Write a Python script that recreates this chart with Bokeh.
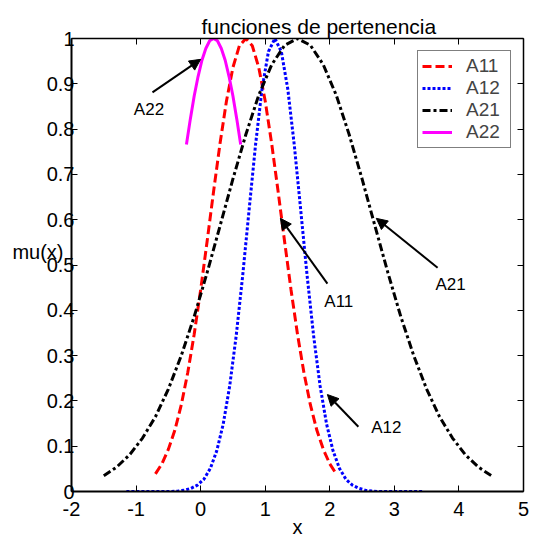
from bokeh.plotting import figure
from bokeh.models import (Label, Arrow, NormalHead, LinearAxis, FixedTicker,
                          CustomJSTickFormatter, Legend, LegendItem, Range1d, Title)
from bokeh.embed import file_html
from bokeh.resources import INLINE

FONT = "Liberation Sans"

# ---- data ----
a11_x = [-0.7, -0.6, -0.5, -0.4, -0.3, -0.2, -0.1, 0.0, 0.1, 0.2, 0.3, 0.4, 0.5, 0.6, 0.7,
         0.8, 0.9, 1.0, 1.1, 1.2, 1.3, 1.4, 1.5, 1.6, 1.7, 1.8, 1.9, 2.0, 2.1]
a11_y = [0.039, 0.061, 0.093, 0.135, 0.191, 0.262, 0.347, 0.445, 0.552, 0.662, 0.768, 0.862,
         0.936, 0.984, 1.0, 0.984, 0.936, 0.862, 0.768, 0.662, 0.552, 0.445, 0.347, 0.262,
         0.191, 0.135, 0.093, 0.061, 0.039]

a12_x = [-1.15, -1.05, -0.95, -0.85, -0.75, -0.65, -0.55, -0.45, -0.35, -0.25, -0.15, -0.05,
         0.05, 0.15, 0.25, 0.35, 0.45, 0.55, 0.65, 0.75, 0.85, 0.95, 1.05, 1.15, 1.25, 1.35,
         1.45, 1.55, 1.65, 1.75, 1.85, 1.95, 2.05, 2.15, 2.25, 2.35, 2.45, 2.55, 2.65, 2.75,
         2.85, 2.95, 3.05, 3.15, 3.25, 3.35, 3.45]
a12_y = [0, 0, 0, 0, 0, 0, 0, 0, 0.001, 0.003, 0.007, 0.014, 0.027, 0.051, 0.09, 0.149,
         0.233, 0.343, 0.475, 0.621, 0.765, 0.888, 0.971, 1.0, 0.971, 0.888, 0.765, 0.621,
         0.475, 0.343, 0.233, 0.149, 0.09, 0.051, 0.027, 0.014, 0.007, 0.003, 0.001,
         0, 0, 0, 0, 0, 0, 0, 0]

a21_x = [-1.5, -1.3, -1.1, -0.9, -0.7, -0.5, -0.3, -0.1, 0.1, 0.3, 0.5, 0.7, 0.9, 1.1, 1.3,
         1.5, 1.7, 1.9, 2.1, 2.3, 2.5, 2.7, 2.9, 3.1, 3.3, 3.5, 3.7, 3.9, 4.1, 4.3, 4.5]
a21_y = [0.035, 0.054, 0.081, 0.118, 0.165, 0.226, 0.300, 0.386, 0.483, 0.586, 0.690, 0.788,
         0.875, 0.942, 0.985, 1.0, 0.985, 0.942, 0.875, 0.788, 0.690, 0.586, 0.483, 0.386,
         0.300, 0.226, 0.165, 0.118, 0.081, 0.054, 0.035]

a22_x = [-0.22, -0.16, -0.10, -0.04, 0.02, 0.08, 0.14, 0.20, 0.26, 0.32, 0.38, 0.44, 0.50,
         0.56, 0.62]
a22_y = [0.766, 0.822, 0.873, 0.916, 0.952, 0.978, 0.995, 1.0, 0.995, 0.978, 0.952, 0.916,
         0.873, 0.822, 0.766]

x_ticks = [-2, -1, 0, 1, 2, 3, 4, 5]
y_ticks = [0, 0.1, 0.2, 0.3, 0.4, 0.5, 0.6, 0.7, 0.8, 0.9, 1.0]

series_names = ["A11", "A12", "A21", "A22"]

# annotations: label text, label position, arrow tail, arrow tip
ann_text = ["A22", "A11", "A21", "A12"]
ann_text_x = [-0.80, 2.14, 3.87, 2.876]
ann_text_y = [0.843, 0.42, 0.457, 0.141]
arrow_tail_x = [-0.746, 1.963, 3.67, 2.443]
arrow_tail_y = [0.881, 0.459, 0.494, 0.143]
arrow_tip_x = [0.0, 1.235, 2.72, 1.963]
arrow_tip_y = [0.954, 0.603, 0.603, 0.214]

title_text = "funciones de pertenencia"
xlabel_text = "x"
ylabel_text = "mu(x)"
ylabel_at = 0.528   # height (in y units) where the y-axis caption sits

# ---- figure ----
p = figure(width=534, height=540, output_backend="svg", toolbar_location=None,
           x_range=Range1d(-2, 5), y_range=Range1d(0, 1),
           min_border_left=71, min_border_right=11, min_border_top=38, min_border_bottom=49,
           background_fill_color="white", border_fill_color="white")
p.outline_line_color = None
p.xgrid.visible = False
p.ygrid.visible = False

fmt = CustomJSTickFormatter(code="return String(Math.round(tick*10)/10);")

def style_axis(ax, show_labels, lw):
    ax.axis_line_color = "black"
    ax.axis_line_width = lw
    ax.major_tick_in = 6
    ax.major_tick_out = 0
    ax.major_tick_line_color = "black"
    ax.major_tick_line_width = 1
    ax.minor_tick_line_color = None
    ax.formatter = fmt
    if show_labels:
        ax.major_label_text_font = FONT
        ax.major_label_text_font_size = "20px"
        ax.major_label_text_color = "black"
    else:
        ax.major_label_text_font_size = "0px"
        ax.major_label_text_color = None
        ax.major_label_standoff = 0

p.xaxis.ticker = FixedTicker(ticks=x_ticks)
p.yaxis.ticker = FixedTicker(ticks=y_ticks)
style_axis(p.xaxis[0], True, 2)
style_axis(p.yaxis[0], True, 2)
p.xaxis.major_label_standoff = 10
p.yaxis.major_label_standoff = -3

p.xaxis.axis_label = xlabel_text
p.xaxis.axis_label_text_font = FONT
p.xaxis.axis_label_text_font_size = "20px"
p.xaxis.axis_label_text_font_style = "normal"
p.xaxis.axis_label_text_color = "black"
p.xaxis.axis_label_standoff = -3

# y caption: a bare axis whose single label is the caption, placed left of the tick labels
ycap = LinearAxis(ticker=FixedTicker(ticks=[ylabel_at]),
                  formatter=CustomJSTickFormatter(code="return %r;" % ylabel_text))
ycap.axis_line_color = None
ycap.major_tick_line_color = None
ycap.minor_tick_line_color = None
ycap.major_tick_in = 0
ycap.major_tick_out = 0
ycap.major_label_standoff = -20
ycap.major_label_text_font = FONT
ycap.major_label_text_font_size = "20px"
ycap.major_label_text_color = "black"
p.add_layout(ycap, "left")

top_ax = LinearAxis(ticker=FixedTicker(ticks=x_ticks))
right_ax = LinearAxis(ticker=FixedTicker(ticks=y_ticks))
style_axis(top_ax, False, 1.5)
style_axis(right_ax, False, 1.5)
p.add_layout(top_ax, "above")
p.add_layout(right_ax, "right")

p.title = Title(text=title_text, align="left", offset=130, standoff=2,
                text_font=FONT, text_font_size="21px", text_font_style="normal",
                text_color="black")

# ---- curves ----
r11 = p.line(a11_x, a11_y, line_color="#ff0000", line_width=3, line_dash="9 4")
r12 = p.line(a12_x, a12_y, line_color="#0000ff", line_width=3, line_dash="3 2")
r21 = p.line(a21_x, a21_y, line_color="black", line_width=3, line_dash="8 3 3 3")
r22 = p.line(a22_x, a22_y, line_color="#ff00ff", line_width=3)

legend = Legend(items=[LegendItem(label=n, renderers=[r]) for n, r in
                       zip(series_names, [r11, r12, r21, r22])],
                location="top_right", margin=12, padding=4, spacing=-2,
                glyph_width=30, glyph_height=18, label_height=18, label_standoff=14,
                label_width=40,
                label_text_font=FONT, label_text_font_size="19px",
                border_line_color="black", border_line_width=1.5,
                background_fill_color="white", background_fill_alpha=1)
p.add_layout(legend, "center")

# ---- arrows and labels ----
for t, tx, ty, x0, y0, x1, y1 in zip(ann_text, ann_text_x, ann_text_y,
                                     arrow_tail_x, arrow_tail_y, arrow_tip_x, arrow_tip_y):
    p.add_layout(Arrow(x_start=x0, y_start=y0, x_end=x1, y_end=y1, line_width=2,
                       line_color="black",
                       end=NormalHead(size=11, fill_color="black", line_color="black")))
    p.add_layout(Label(x=tx, y=ty, text=t, text_font=FONT, text_font_size="17px",
                       text_align="center", text_baseline="middle", text_color="black"))

open("out.html", "w").write(file_html(p, INLINE))
